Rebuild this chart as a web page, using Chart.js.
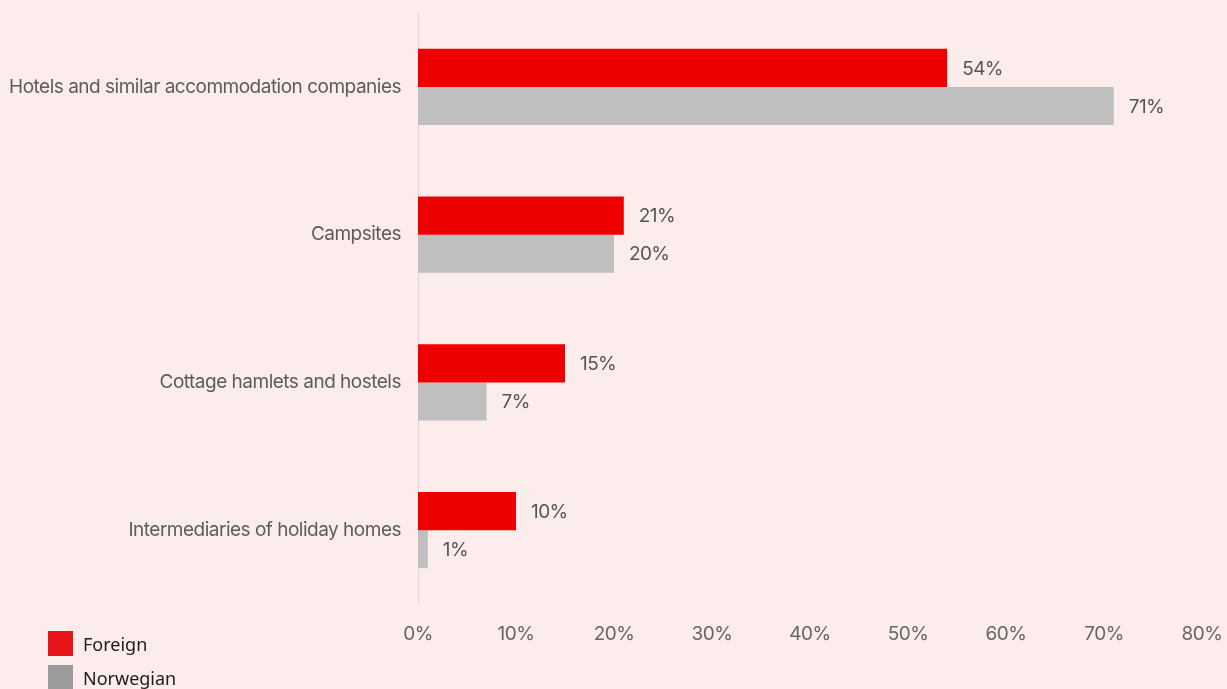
<!DOCTYPE html>
<html>
<head>
<meta charset="utf-8">
<script src="https://cdn.jsdelivr.net/npm/chart.js@4"></script>
<style>
  html, body { margin: 0; padding: 0; background: #fcecec; }
  #wrap { position: relative; width: 1227px; height: 689px; overflow: hidden; }
  #chart { position: absolute; left: 0; top: 0; }
  .legend { position: absolute; left: 48px; font: 18px "Noto Sans", sans-serif; color: #1c1c1c; }
  .legend .row { display: flex; align-items: center; height: 25px; margin-bottom: 9px; }
  .legend .sw { width: 25px; height: 25px; margin-right: 10px; }
</style>
</head>
<body>
<div id="wrap">
  <canvas id="chart" width="1227" height="689"></canvas>
  <div class="legend" style="top:631px">
    <div class="row"><span class="sw" style="background:#e8161b"></span>Foreign</div>
    <div class="row"><span class="sw" style="background:#9c9c9c"></span>Norwegian</div>
  </div>
</div>
<script>
// Share of guest nights by accommodation type
const categories = [
  "Hotels and similar accommodation companies",
  "Campsites",
  "Cottage hamlets and hostels",
  "Intermediaries of holiday homes",
];
const foreign = [54, 21, 15, 10];
const norwegian = [71, 20, 7, 1];
const xTicks = [0, 10, 20, 30, 40, 50, 60, 70, 80];

const labelFont = { family: "Inter, sans-serif", size: 19 };

// tighter tracking for all canvas text
const tracking = {
  id: "tracking",
  beforeDraw(chart) { chart.ctx.letterSpacing = "-0.5px"; },
};

// writes the value next to the end of each bar
const valueLabels = {
  id: "valueLabels",
  afterDatasetsDraw(chart) {
    const ctx = chart.ctx;
    ctx.save();
    ctx.font = "19px Inter, sans-serif";
    ctx.letterSpacing = "-0.6px";
    ctx.fillStyle = "#555555";
    ctx.textAlign = "left";
    ctx.textBaseline = "middle";
    chart.data.datasets.forEach((ds, i) => {
      chart.getDatasetMeta(i).data.forEach((bar, j) => {
        ctx.fillText(ds.data[j] + "%", bar.x + 15, bar.y + 1);
      });
    });
    ctx.restore();
  },
};

new Chart(document.getElementById("chart"), {
  type: "bar",
  data: {
    labels: categories,
    datasets: [
      { label: "Foreign", data: foreign, backgroundColor: "#ee0000" },
      { label: "Norwegian", data: norwegian, backgroundColor: "#bfbfbf" },
    ],
  },
  options: {
    indexAxis: "y",
    responsive: false,
    animation: false,
    categoryPercentage: 0.515,
    barPercentage: 1,
    layout: { padding: { top: 13, right: 25, left: 0, bottom: 0 } },
    plugins: { legend: { display: false }, tooltip: { enabled: false } },
    scales: {
      x: {
        min: 0,
        max: 80,
        afterBuildTicks: (scale) => { scale.ticks = xTicks.map((v) => ({ value: v })); },
        afterFit: (scale) => {
          scale.height = 85;
          scale.paddingLeft = 0;
          scale.paddingRight = 0;
        },
        grid: { display: false },
        border: { display: false },
        ticks: {
          padding: 11,
          color: "#666666",
          font: labelFont,
          callback: (v) => v + "%",
        },
      },
      y: {
        afterFit: (scale) => {
          scale.width = 418;
          scale.paddingTop = 0;
          scale.paddingBottom = 0;
        },
        grid: { display: false, drawTicks: false },
        border: { display: true, color: "#d9d9d9", width: 1 },
        ticks: { padding: 17, color: "#5c5c5c", font: labelFont },
      },
    },
  },
  plugins: [tracking, valueLabels],
});
</script>
</body>
</html>
